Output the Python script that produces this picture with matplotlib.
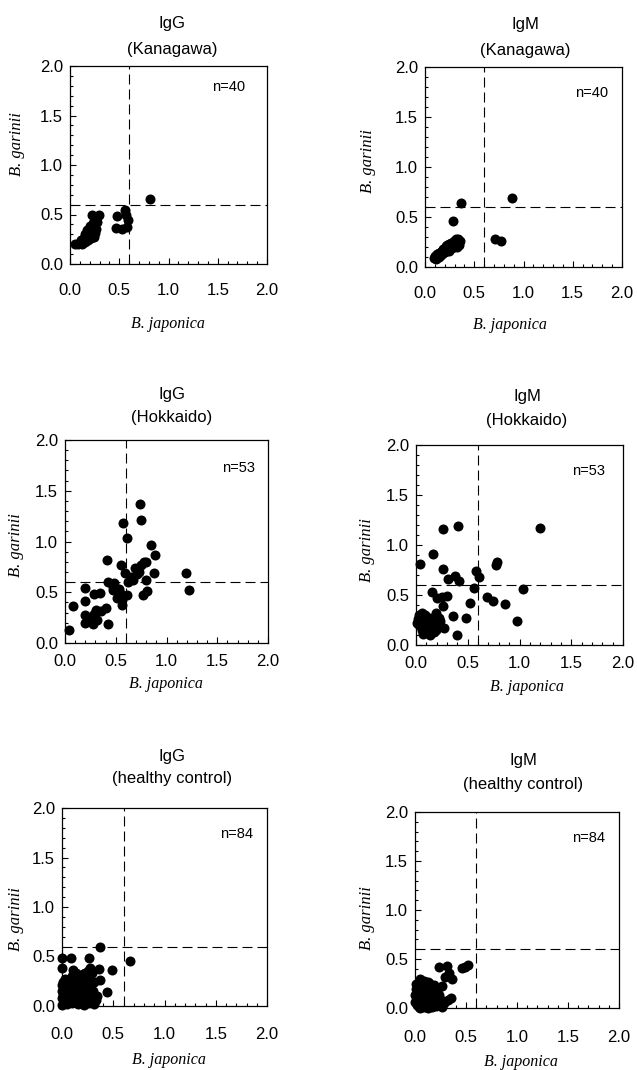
import matplotlib
matplotlib.use("Agg")
import matplotlib.pyplot as plt
from matplotlib.ticker import MultipleLocator, FormatStrFormatter

# ---------------- data ----------------
panel_titles = ["IgG\n(Kanagawa)", "IgM\n(Kanagawa)", "IgG\n(Hokkaido)",
                "IgM\n(Hokkaido)", "IgG\n(healthy control)", "IgM\n(healthy control)"]
panel_n = ["n=40", "n=40", "n=53", "n=53", "n=84", "n=84"]
cutoff_x = 0.6
cutoff_y = 0.6
tick_values = [0.0, 0.5, 1.0, 1.5, 2.0]
xlabel_text = "B. japonica"
ylabel_text = "B. garinii"

igg_kanagawa_x = [0.05, 0.08, 0.10, 0.12, 0.13, 0.15, 0.11, 0.14, 0.16, 0.18, 0.17, 0.19, 0.21,
                  0.15, 0.18, 0.20, 0.22, 0.24, 0.17, 0.19, 0.21, 0.23, 0.25, 0.20, 0.22, 0.24,
                  0.26, 0.23, 0.25, 0.27, 0.22, 0.29,
                  0.47, 0.48, 0.53, 0.56, 0.57, 0.58, 0.59, 0.81]
igg_kanagawa_y = [0.20, 0.20, 0.21, 0.20, 0.23, 0.22, 0.24, 0.26, 0.25, 0.24, 0.28, 0.27, 0.26,
                  0.30, 0.31, 0.30, 0.29, 0.27, 0.34, 0.33, 0.35, 0.33, 0.31, 0.38, 0.38, 0.36,
                  0.35, 0.41, 0.40, 0.42, 0.49, 0.49,
                  0.36, 0.48, 0.35, 0.55, 0.50, 0.37, 0.44, 0.66]

igm_kanagawa_x = [0.09, 0.10, 0.11, 0.12, 0.12, 0.13, 0.14, 0.14, 0.15, 0.16, 0.16, 0.17, 0.18,
                  0.18, 0.19, 0.20, 0.20, 0.21, 0.22, 0.22, 0.23, 0.24, 0.24, 0.25, 0.26, 0.27,
                  0.28, 0.29, 0.30, 0.31, 0.32, 0.33, 0.34, 0.35, 0.36,
                  0.28, 0.365, 0.71, 0.77, 0.88]
igm_kanagawa_y = [0.09, 0.11, 0.08, 0.10, 0.13, 0.12, 0.10, 0.14, 0.13, 0.12, 0.15, 0.16, 0.14,
                  0.18, 0.17, 0.19, 0.15, 0.21, 0.18, 0.22, 0.20, 0.16, 0.23, 0.21, 0.24, 0.19,
                  0.22, 0.26, 0.23, 0.28, 0.20, 0.25, 0.28, 0.22, 0.26,
                  0.46, 0.64, 0.28, 0.26, 0.69]

igg_hokkaido_x = [0.04, 0.08, 0.20, 0.20, 0.20, 0.20, 0.29, 0.34, 0.26, 0.31, 0.28, 0.32, 0.23,
                  0.41, 0.42, 0.40, 0.42, 0.48, 0.47, 0.51, 0.53, 0.55, 0.57, 0.56, 0.61, 0.61,
                  0.59, 0.62, 0.67, 0.69, 0.73, 0.75, 0.74, 0.75, 0.80, 0.78, 0.80, 0.77, 0.81,
                  0.85, 0.89, 0.88, 1.19, 1.22, 0.53, 0.56, 0.47, 0.54, 0.65, 0.71, 0.29, 0.35,
                  0.24]
igg_hokkaido_y = [0.13, 0.36, 0.54, 0.41, 0.28, 0.20, 0.48, 0.49, 0.26, 0.33, 0.19, 0.23, 0.25,
                  0.82, 0.60, 0.34, 0.19, 0.59, 0.52, 0.44, 0.53, 0.77, 1.18, 0.37, 0.47, 1.03,
                  0.69, 0.60, 0.62, 0.74, 0.70, 0.77, 1.37, 1.21, 0.80, 0.80, 0.62, 0.47, 0.51,
                  0.97, 0.87, 0.69, 0.69, 0.52, 0.47, 0.42, 0.55, 0.49, 0.65, 0.68, 0.29, 0.32,
                  0.23]

igm_hokkaido_x = [0.04, 0.16, 0.26, 0.41, 1.20, 0.26, 0.31, 0.38, 0.42, 0.58, 0.61, 0.56, 0.77,
                  0.78, 1.03, 0.69, 0.74, 0.86, 0.98, 0.52, 0.48, 0.36, 0.40, 0.15, 0.20, 0.25,
                  0.30, 0.26, 0.27, 0.23,
                  0.02, 0.03, 0.06, 0.09, 0.10, 0.13, 0.14, 0.19, 0.17, 0.21, 0.06, 0.12, 0.17,
                  0.07, 0.22, 0.01, 0.11, 0.15, 0.19, 0.09, 0.03, 0.14, 0.07]
igm_hokkaido_y = [0.81, 0.91, 1.16, 1.19, 1.17, 0.76, 0.66, 0.69, 0.64, 0.74, 0.68, 0.57, 0.80,
                  0.83, 0.56, 0.48, 0.44, 0.41, 0.24, 0.42, 0.27, 0.29, 0.10, 0.53, 0.47, 0.48,
                  0.49, 0.39, 0.17, 0.24,
                  0.26, 0.20, 0.32, 0.23, 0.16, 0.18, 0.27, 0.32, 0.23, 0.18, 0.15, 0.12, 0.13,
                  0.18, 0.27, 0.22, 0.21, 0.22, 0.15, 0.30, 0.30, 0.10, 0.11]

igg_control_x = [0.37, 0.66, 0.49, 0.44, 0.36, 0.37, 0.26, 0.09, 0.00, 0.00, 0.11, 0.27, 0.22,
                 0.17, 0.34, 0.33,
                 0.00, 0.05, 0.10, 0.16, 0.21, 0.26, 0.31,
                 0.02, 0.07, 0.13, 0.18, 0.23, 0.29,
                 0.00, 0.04, 0.09, 0.15, 0.20, 0.25, 0.30,
                 0.02, 0.06, 0.12, 0.17, 0.22, 0.28,
                 0.00, 0.04, 0.08, 0.14, 0.19, 0.24, 0.30,
                 0.02, 0.06, 0.11, 0.16, 0.21, 0.26,
                 0.00, 0.04, 0.09, 0.13, 0.18, 0.23, 0.28,
                 0.01, 0.06, 0.11, 0.15, 0.20, 0.25,
                 0.03, 0.08, 0.13, 0.22, 0.27,
                 0.10, 0.17, 0.24,
                 0.14, 0.20, 0.29,
                 0.01, 0.03, 0.19, 0.25, 0.31]
igg_control_y = [0.60, 0.45, 0.36, 0.14, 0.37, 0.26, 0.48, 0.48, 0.48, 0.38, 0.36, 0.38, 0.33,
                 0.28, 0.10, 0.06,
                 0.01, 0.02, 0.03, 0.02, 0.01, 0.03, 0.02,
                 0.05, 0.06, 0.05, 0.06, 0.05, 0.06,
                 0.08, 0.09, 0.08, 0.09, 0.08, 0.09, 0.08,
                 0.12, 0.11, 0.12, 0.11, 0.12, 0.11,
                 0.15, 0.14, 0.15, 0.14, 0.15, 0.14, 0.15,
                 0.18, 0.17, 0.18, 0.17, 0.18, 0.17,
                 0.21, 0.20, 0.21, 0.20, 0.21, 0.20, 0.21,
                 0.24, 0.23, 0.24, 0.23, 0.24, 0.23,
                 0.27, 0.26, 0.27, 0.26, 0.27,
                 0.30, 0.29, 0.30,
                 0.33, 0.32, 0.33,
                 0.11, 0.05, 0.26, 0.35, 0.24]

igm_control_x = [0.235, 0.31, 0.46, 0.49, 0.52, 0.29, 0.36, 0.33, 0.26, 0.35, 0.32, 0.05, 0.01,
                 0.05, 0.09, 0.13, 0.17, 0.21, 0.26,
                 0.02, 0.07, 0.11, 0.15, 0.19, 0.24, 0.28,
                 0.00, 0.04, 0.08, 0.12, 0.16, 0.20, 0.25,
                 0.02, 0.06, 0.10, 0.14, 0.18, 0.22,
                 0.00, 0.04, 0.08, 0.12, 0.16, 0.20, 0.24,
                 0.02, 0.06, 0.10, 0.14, 0.18, 0.22,
                 0.01, 0.05, 0.09, 0.13, 0.17, 0.21,
                 0.03, 0.07, 0.11, 0.15, 0.19,
                 0.06, 0.10, 0.14,
                 0.09, 0.13,
                 0.07, 0.11, 0.09, 0.13, 0.05, 0.11, 0.08, 0.12, 0.06, 0.14, 0.03, 0.16,
                 0.10, 0.07, 0.12, 0.04]
igm_control_y = [0.415, 0.43, 0.41, 0.42, 0.44, 0.32, 0.30, 0.36, 0.22, 0.10, 0.08, 0.30, 0.245,
                 0.00, 0.01, 0.00, 0.01, 0.02, 0.01,
                 0.03, 0.04, 0.03, 0.04, 0.03, 0.04, 0.05,
                 0.06, 0.07, 0.06, 0.07, 0.06, 0.07, 0.08,
                 0.10, 0.09, 0.10, 0.09, 0.10, 0.09,
                 0.13, 0.12, 0.13, 0.12, 0.13, 0.12, 0.13,
                 0.16, 0.15, 0.16, 0.15, 0.16, 0.17,
                 0.19, 0.18, 0.19, 0.18, 0.19, 0.20,
                 0.22, 0.21, 0.22, 0.21, 0.23,
                 0.25, 0.24, 0.26,
                 0.28, 0.27,
                 0.02, 0.05, 0.08, 0.11, 0.11, 0.14, 0.17, 0.20, 0.04, 0.07, 0.14, 0.10,
                 0.12, 0.13, 0.16, 0.01]

series_x = [igg_kanagawa_x, igm_kanagawa_x, igg_hokkaido_x, igm_hokkaido_x, igg_control_x, igm_control_x]
series_y = [igg_kanagawa_y, igm_kanagawa_y, igg_hokkaido_y, igm_hokkaido_y, igg_control_y, igm_control_y]

# ---------------- layout (pixels in a 637 x 1070 canvas) ----------------
W, H = 637, 1070
# (left, top, right, bottom) of each axes box in pixels
boxes = [(70, 66, 267, 264), (425, 67, 622, 267),
         (65, 440, 268, 643), (416, 445, 623, 645),
         (62, 808, 267, 1006), (415, 812, 619, 1008)]
title_pos = [(172, 28, 54), (525, 29, 55), (172, 399, 422), (527, 401, 425),
             (172, 761, 783), (523, 765, 789)]
n_pos = [(0.888, 0.874), (0.929, 0.85), (0.936, 0.844), (0.913, 0.85), (0.93, 0.85), (0.93, 0.847)]
ylab_pos = [(17, 144), (368, 161), (16, 545), (367, 550), (16, 919), (367, 918)]
xlab_pos = [(168, 324), (510, 325), (166, 684), (527, 687), (169, 1060), (521, 1062)]
xpad = [14, 14, 8, 8, 15, 16]

fig = plt.figure(figsize=(W / 100, H / 100), dpi=100)
fig.patch.set_facecolor("white")

sans = ["Liberation Sans", "DejaVu Sans"]
serif = ["Liberation Serif", "DejaVu Serif"]

for i in range(6):
    l, t, r, b = boxes[i]
    ax = fig.add_axes([l / W, 1 - b / H, (r - l) / W, (b - t) / H])
    ax.scatter(series_x[i], series_y[i], s=52, color="black", linewidths=0, zorder=3,
               clip_on=False)
    ax.axvline(cutoff_x, color="black", lw=0.8, dashes=(9, 4.5), zorder=2)
    ax.axhline(cutoff_y, color="black", lw=0.8, dashes=(9, 4.5), zorder=2)
    ax.set_xlim(0, 2)
    ax.set_ylim(0, 2)
    ax.set_xticks(tick_values)
    ax.set_yticks(tick_values)
    ax.xaxis.set_major_formatter(FormatStrFormatter("%.1f"))
    ax.yaxis.set_major_formatter(FormatStrFormatter("%.1f"))
    ax.xaxis.set_minor_locator(MultipleLocator(0.1))
    ax.yaxis.set_minor_locator(MultipleLocator(0.1))
    ax.tick_params(axis="both", which="both", direction="in", top=False, right=False,
                   width=0.8, color="black")
    ax.tick_params(axis="both", which="major", length=4)
    ax.tick_params(axis="both", which="minor", length=2.5)
    ax.tick_params(axis="x", which="major", pad=xpad[i])
    ax.tick_params(axis="y", which="major", pad=5)
    for lab in ax.get_xticklabels() + ax.get_yticklabels():
        lab.set_fontfamily(sans)
        lab.set_fontsize(12)
    for sp in ax.spines.values():
        sp.set_linewidth(0.9)
    ax.text(n_pos[i][0], n_pos[i][1], panel_n[i], transform=ax.transAxes, ha="right",
            va="baseline", fontsize=10.5, family=sans)

    cx, y1, y2 = title_pos[i]
    line1, line2 = panel_titles[i].split("\n")
    fig.text(cx / W, 1 - y1 / H, line1, ha="center", va="baseline", fontsize=12, family=sans)
    fig.text(cx / W, 1 - y2 / H, line2, ha="center", va="baseline", fontsize=12, family=sans)

    yx, yy = ylab_pos[i]
    fig.text(yx / W, 1 - yy / H, ylabel_text, rotation=90, ha="center", va="center",
             fontsize=12, family=serif, style="italic")
    xx, xy = xlab_pos[i]
    fig.text(xx / W, 1 - xy / H, xlabel_text, ha="center", va="center",
             fontsize=11.5, family=serif, style="italic")

fig.savefig("out.png", dpi=100, facecolor="white")
